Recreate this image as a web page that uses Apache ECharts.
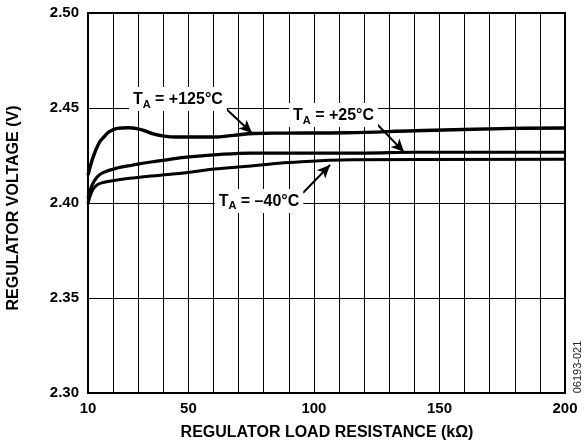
<!DOCTYPE html>
<html><head><meta charset="utf-8">
<script src="https://cdn.jsdelivr.net/npm/echarts@6/dist/echarts.min.js"></script>
<style>html,body{margin:0;padding:0;background:#fff}#c{width:584px;height:446px}</style>
</head><body><div id="c"></div>
<script>
// ---- data ----
const x125 = [10, 12, 14.4, 16.5, 18.4, 21.6, 26, 30, 33, 36, 40.3, 45, 60, 68, 76, 87, 113, 140, 179, 200];
const y125 = [2.4147, 2.4240, 2.4316, 2.4350, 2.4374, 2.4393, 2.4396, 2.4390, 2.4378, 2.4364, 2.4352, 2.4347, 2.4347, 2.4356, 2.4366, 2.4368, 2.4370, 2.4380, 2.4393, 2.4395];
const x25 = [10, 11.5, 13.6, 16, 21.6, 28, 35.1, 42, 48.2, 60, 75, 90, 120, 140, 200];
const y25 = [2.4025, 2.4090, 2.4137, 2.4160, 2.4184, 2.4200, 2.4216, 2.4228, 2.4240, 2.4253, 2.4263, 2.4263, 2.4263, 2.4267, 2.4267];
const x40 = [10, 11.5, 13.6, 16, 21.6, 28, 35.1, 42, 48.2, 60, 75, 90, 115, 200];
const y40 = [2.3995, 2.4060, 2.4095, 2.4108, 2.4121, 2.4132, 2.4142, 2.4150, 2.4158, 2.4179, 2.4195, 2.4213, 2.4228, 2.4230];
const xTickLabels = [10, 50, 100, 150, 200];
const yTickLabels = ['2.30', '2.35', '2.40', '2.45', '2.50'];
// annotations: label text parts, label centre (data), arrow tail and tip (data)
const annLabels = [
  {sub: 'A', rest: ' = +125°C', at: [45.8, 2.4547], tail: [63.8, 2.4511], tip: [75.3, 2.4368]},
  {sub: 'A', rest: ' = +25°C', at: [107.8, 2.4463], tail: [124.3, 2.4426], tip: [135.9, 2.4268]},
  {sub: 'A', rest: ' = –40°C', at: [78.1, 2.4011], tail: [95.6, 2.4053], tip: [106.4, 2.4200]}
];

const FONT = '"Liberation Sans", Arial, Helvetica, sans-serif';
const zip = (a, b) => a.map((v, i) => [v, b[i]]);
const chart = echarts.init(document.getElementById('c'));

const mkSeries = (name, xs, ys, w) => ({
  name, type: 'line', data: zip(xs, ys), showSymbol: false, symbol: 'none',
  smooth: 0.4, lineStyle: {color: '#000', width: w}, z: 3, silent: true
});

const series = [
  mkSeries('125', x125, y125, 3.4),
  mkSeries('25', x25, y25, 3.2),
  mkSeries('-40', x40, y40, 3),
  {
    type: 'line', data: [], silent: true,
    markLine: {
      silent: true, symbol: ['none', 'arrow'], symbolSize: [9, 13],
      label: {show: false},
      lineStyle: {color: '#000', width: 2, type: 'solid'},
      data: annLabels.map(a => [{coord: a.tail}, {coord: a.tip}]),
      animation: false
    }
  }
];

chart.setOption({
  animation: false,
  grid: {left: 88, right: 19, top: 13, bottom: 53, show: true, borderColor: '#000', borderWidth: 2, z: 4},
  xAxis: {
    type: 'value', min: 10, max: 200, interval: 10,
    axisLine: {show: false}, axisTick: {show: false},
    splitLine: {show: true, lineStyle: {color: '#000', width: 1}},
    axisLabel: {
      margin: 8, color: '#000', fontSize: 15, fontWeight: 'bold', fontFamily: FONT,
      formatter: v => xTickLabels.indexOf(v) >= 0 ? String(v) : ''
    }
  },
  yAxis: {
    type: 'value', min: 2.30, max: 2.50, interval: 0.05,
    axisLine: {show: false}, axisTick: {show: false},
    splitLine: {show: true, lineStyle: {color: '#000', width: 1}},
    axisLabel: {
      margin: 9, color: '#000', fontSize: 15, fontWeight: 'bold', fontFamily: FONT,
      formatter: v => { const s = v.toFixed(2); return yTickLabels.indexOf(s) >= 0 ? s : ''; }
    }
  },
  series
});

const graphics = [];
annLabels.forEach(a => {
  const p = chart.convertToPixel({gridIndex: 0}, a.at);
  graphics.push({
    type: 'text', x: p[0], y: p[1], z: 10,
    style: {
      text: '{t|T}{s|' + a.sub + '}{t|' + a.rest + '}',
      align: 'center', verticalAlign: 'middle',
      backgroundColor: '#fff', padding: [2, 4, 1, 4],
      rich: {
        t: {fontSize: 16, fontWeight: 'bold', fontFamily: FONT, fill: '#000', lineHeight: 21, verticalAlign: 'middle'},
        s: {fontSize: 11, fontWeight: 'bold', fontFamily: FONT, fill: '#000', lineHeight: 21, verticalAlign: 'bottom'}
      }
    }
  });
});
graphics.push({
  type: 'text', x: 14, y: 208, rotation: Math.PI / 2, z: 10,
  style: {text: 'REGULATOR VOLTAGE (V)', align: 'center', verticalAlign: 'middle',
    fontSize: 16, fontWeight: 'bold', fontFamily: FONT, fill: '#000'}
});
graphics.push({
  type: 'text', x: 327, y: 433, z: 10,
  style: {text: 'REGULATOR LOAD RESISTANCE (kΩ)', align: 'center', verticalAlign: 'middle',
    fontSize: 16, fontWeight: 'bold', fontFamily: FONT, fill: '#000'}
});
graphics.push({
  type: 'text', x: 578, y: 367, rotation: Math.PI / 2, z: 10,
  style: {text: '06193-021', align: 'center', verticalAlign: 'middle',
    fontSize: 11, fontFamily: FONT, fill: '#222'}
});
chart.setOption({graphic: graphics});
</script></body></html>
